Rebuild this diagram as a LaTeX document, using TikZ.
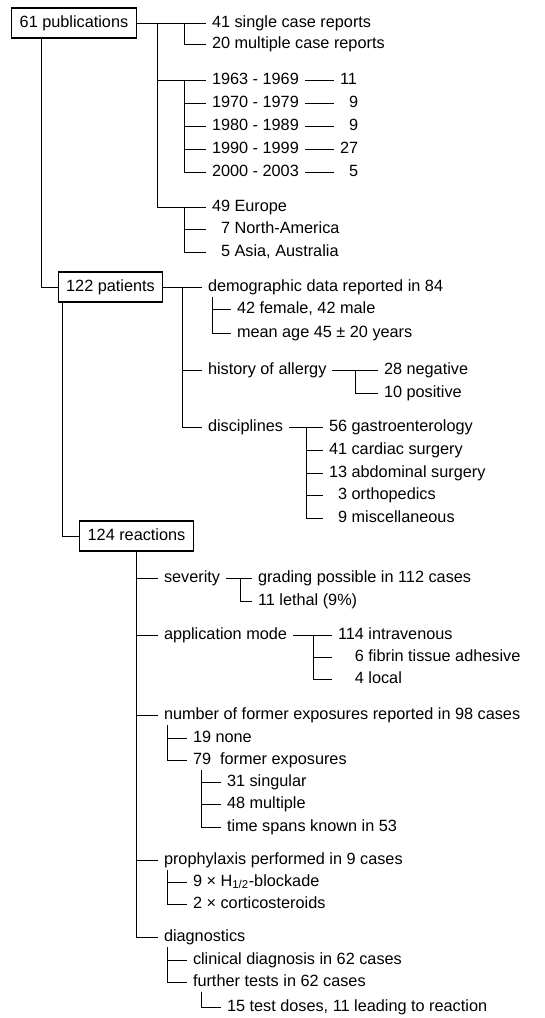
\documentclass[tikz,border=0pt]{standalone}
\usepackage{fontspec}
\setmainfont{Liberation Sans}
\usetikzlibrary{calc}

\begin{document}
\begin{tikzpicture}[x=0.75pt, y=-0.75pt, line width=0.7pt,
  every node/.style={font=\fontsize{12.2}{14}\selectfont, text height=8.8pt, text depth=2.5pt},
  box/.style={draw, line width=0.8pt, inner xsep=6pt, minimum height=22.5pt},
  item/.style={anchor=west, inner xsep=0pt, outer xsep=4.5pt}]
  \useasboundingbox (0,0) rectangle (545,1018);

  \node[box] (pub) at (74,23) {61 publications};
  \node[item] (single) at (206,23) {41 single case reports};
  \node[item] (multi) at (206,44) {20 multiple case reports};
  \node[item] (y63) at (206,80) {1963 - 1969};
  \node[item] (y70) at (206,103) {1970 - 1979};
  \node[item] (y80) at (206,126) {1980 - 1989};
  \node[item] (y90) at (206,149) {1990 - 1999};
  \node[item] (y00) at (206,172) {2000 - 2003};
  \node[item] (n63) at (334,80) {11};
  \node[item] (n70) at (334,103) {\phantom{1}9};
  \node[item] (n80) at (334,126) {\phantom{1}9};
  \node[item] (n90) at (334,149) {27};
  \node[item] (n00) at (334,172) {\phantom{1}5};
  \node[item] (eur) at (206,207) {49 Europe};
  \node[item] (na) at (206,229) {\phantom{4}7 North-America};
  \node[item] (asia) at (206,252) {\phantom{5}5 Asia, Australia};
  \coordinate (pubA) at (157,23);
  \coordinate (pubB) at (184,23);
  \coordinate (yrB) at (184,80);
  \coordinate (geoB) at (184,207);
  \coordinate (pubL) at ($(pub.south west)+(30,0)$);

  \node[box] (pat) at (110.5,287) {122 patients};
  \node[item] (demo) at (202,287) {demographic data reported in 84};
  \node[item] (fem) at (231,309) {42 female, 42 male};
  \node[item] (age) at (231,333) {mean age 45 ± 20 years};
  \node[item] (hist) at (202,370) {history of allergy};
  \node[item] (neg) at (378,370) {28 negative};
  \node[item] (posi) at (378,393) {10 positive};
  \node[item] (disc) at (202,427) {disciplines};
  \node[item] (gas) at (323,427) {56 gastroenterology};
  \node[item] (card) at (323,450) {41 cardiac surgery};
  \node[item] (abd) at (323,473) {13 abdominal surgery};
  \node[item] (orth) at (323,495) {\phantom{5}3 orthopedics};
  \node[item] (misc) at (323,518) {\phantom{5}9 miscellaneous};
  \coordinate (patA) at (182,287);
  \coordinate (demoS) at (212,297);
  \coordinate (histS) at (355,370);
  \coordinate (discS) at (306,427);
  \coordinate (patL) at ($(pat.south west)+(5,0)$);

  \node[box] (rea) at (136.5,536) {124 reactions};
  \node[item] (sev) at (158,578) {severity};
  \node[item] (grad) at (252,578) {grading possible in 112 cases};
  \node[item] (leth) at (252,601) {11 lethal (9\%)};
  \node[item] (app) at (158,635) {application mode};
  \node[item] (iv) at (332,635) {114 intravenous};
  \node[item] (fib) at (332,657) {\phantom{11}6 fibrin tissue adhesive};
  \node[item] (loc) at (332,679) {\phantom{11}4 local};
  \node[item] (expo) at (158,715) {number of former exposures reported in 98 cases};
  \node[item] (none) at (187,738) {19 none};
  \node[item] (former) at (187,760) {79\ \ former exposures};
  \node[item] (sing) at (221,782) {31 singular};
  \node[item] (mult) at (221,804) {48 multiple};
  \node[item] (span) at (221,827) {time spans known in 53};
  \node[item] (proph) at (158,860) {prophylaxis performed in 9 cases};
  \node[item] (hblk) at (187,882) {9 × H\textsubscript{1/2}-blockade};
  \node[item] (cort) at (187,904) {2 × corticosteroids};
  \node[item] (diag) at (158,937) {diagnostics};
  \node[item] (clin) at (187,960) {clinical diagnosis in 62 cases};
  \node[item] (furth) at (187,982) {further tests in 62 cases};
  \node[item] (doses) at (221,1007) {15 test doses, 11 leading to reaction};
  \coordinate (sevS) at (240,578);
  \coordinate (appS) at (313,635);
  \coordinate (expoS) at (167,725);
  \coordinate (formS) at (201,770);
  \coordinate (prophS) at (167,870);
  \coordinate (diagS) at (167,947);
  \coordinate (furthS) at (201,992);

  \draw (pub) -- (single);
  \draw (pubB) |- (multi);
  \draw (pubA) |- (y63);
  \draw (yrB) |- (y70);
  \draw (yrB) |- (y80);
  \draw (yrB) |- (y90);
  \draw (yrB) |- (y00);
  \draw (y63) -- (n63);
  \draw (y70) -- (n70);
  \draw (y80) -- (n80);
  \draw (y90) -- (n90);
  \draw (y00) -- (n00);
  \draw (pubA) |- (eur);
  \draw (geoB) |- (na);
  \draw (geoB) |- (asia);
  \draw (pubL) |- (pat);

  \draw (pat) -- (demo);
  \draw (demoS) |- (fem);
  \draw (demoS) |- (age);
  \draw (patA) |- (hist);
  \draw (hist) -- (neg);
  \draw (histS) |- (posi);
  \draw (patA) |- (disc);
  \draw (disc) -- (gas);
  \draw (discS) |- (card);
  \draw (discS) |- (abd);
  \draw (discS) |- (orth);
  \draw (discS) |- (misc);
  \draw (patL) |- (rea);

  \draw (rea.south) |- (sev);
  \draw (sev) -- (grad);
  \draw (sevS) |- (leth);
  \draw (rea.south) |- (app);
  \draw (app) -- (iv);
  \draw (appS) |- (fib);
  \draw (appS) |- (loc);
  \draw (rea.south) |- (expo);
  \draw (expoS) |- (none);
  \draw (expoS) |- (former);
  \draw (formS) |- (sing);
  \draw (formS) |- (mult);
  \draw (formS) |- (span);
  \draw (rea.south) |- (proph);
  \draw (prophS) |- (hblk);
  \draw (prophS) |- (cort);
  \draw (rea.south) |- (diag);
  \draw (diagS) |- (clin);
  \draw (diagS) |- (furth);
  \draw (furthS) |- (doses);
\end{tikzpicture}
\end{document}
